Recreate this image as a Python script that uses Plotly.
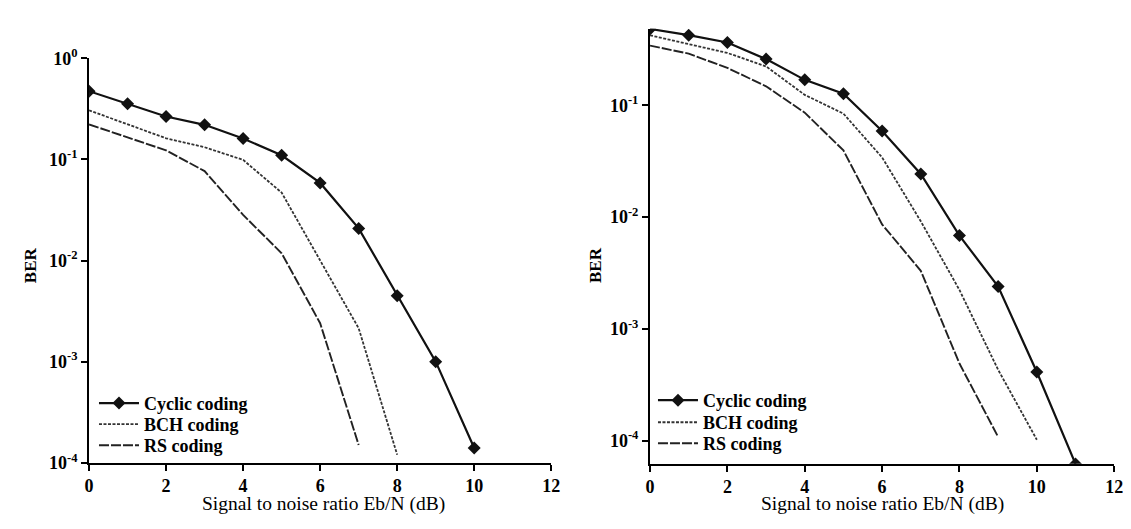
import plotly.graph_objects as go

# ---- data ----
snr_left_cyclic = [0, 1, 2, 3, 4, 5, 6, 7, 8, 9, 10]
ber_left_cyclic = [0.473, 0.356, 0.266, 0.220, 0.161, 0.110, 0.0586, 0.0208, 0.00449, 0.00100, 0.000140]
snr_left_bch = [0, 1, 2, 3, 4, 5, 6, 7, 8]
ber_left_bch = [0.306, 0.222, 0.162, 0.132, 0.099, 0.047, 0.0102, 0.00214, 0.000120]
snr_left_rs = [0, 1, 2, 3, 4, 5, 6, 7]
ber_left_rs = [0.222, 0.166, 0.123, 0.0767, 0.0283, 0.0118, 0.0024, 0.000150]

snr_right_cyclic = [0, 1, 2, 3, 4, 5, 6, 7, 8, 9, 10, 11]
ber_right_cyclic = [0.482, 0.424, 0.365, 0.259, 0.169, 0.127, 0.0590, 0.0243, 0.00684, 0.00239, 0.000412, 0.000062]
snr_right_bch = [0, 1, 2, 3, 4, 5, 6, 7, 8, 9, 10]
ber_right_bch = [0.423, 0.353, 0.294, 0.223, 0.124, 0.0843, 0.0342, 0.00918, 0.00223, 0.000431, 0.000102]
snr_right_rs = [0, 1, 2, 3, 4, 5, 6, 7, 8, 9]
ber_right_rs = [0.342, 0.290, 0.216, 0.148, 0.0860, 0.0395, 0.0086, 0.00331, 0.00049, 0.000108]

series_names = ["Cyclic coding", "BCH coding", "RS coding"]
x_ticks = [0, 2, 4, 6, 8, 10, 12]
y_tickvals = [1, 0.1, 0.01, 0.001, 0.0001]
y_tickexp = ["0", "-1", "-2", "-3", "-4"]
x_title = "Signal to noise ratio Eb/N (dB)"
y_title = "BER"

FONT = "Liberation Serif"
W, H = 1131, 529


def px_x(p):
    return p / W


def px_y(p):
    return 1 - p / H


styles = [
    dict(mode="lines+markers", line=dict(color="#111111", width=2.2),
         marker=dict(symbol="diamond", size=10, color="#111111")),
    dict(mode="lines", line=dict(color="#333333", width=1.8, dash="3px,1.5px")),
    dict(mode="lines", line=dict(color="#222222", width=1.9, dash="10px,2px")),
]

panels = [
    dict(xa="x", ya="y", data=[(snr_left_cyclic, ber_left_cyclic), (snr_left_bch, ber_left_bch),
                               (snr_left_rs, ber_left_rs)],
         leg_x=82, leg_y=[400, 422, 444]),
    dict(xa="x2", ya="y2", data=[(snr_right_cyclic, ber_right_cyclic), (snr_right_bch, ber_right_bch),
                                 (snr_right_rs, ber_right_rs)],
         leg_x=648, leg_y=[397, 420, 442]),
]

fig = go.Figure()
legend_layout = {}
k = 1
for p in panels:
    for i, (xs, ys) in enumerate(p["data"]):
        k += 1
        lname = f"legend{k}"
        fig.add_trace(go.Scatter(x=xs, y=ys, name=series_names[i], xaxis=p["xa"], yaxis=p["ya"],
                                 legend=lname, showlegend=True, **styles[i]))
        legend_layout[lname] = dict(x=px_x(p["leg_x"]), y=px_y(p["leg_y"][i]), xanchor="left",
                                    yanchor="middle", bgcolor="rgba(0,0,0,0)",
                                    font=dict(family=FONT, size=18, color="black", weight="bold"),
                                    itemwidth=40)

axis_common = dict(showline=True, linecolor="black", linewidth=2, ticks="outside",
                   ticklen=6, tickwidth=2, tickcolor="black", showgrid=False,
                   zeroline=False, mirror=False,
                   tickfont=dict(family=FONT, size=18, color="black"))

x_ticktext = [f"<b>{v}</b>" for v in x_ticks]
y_ticktext = [f"<b>10<sup>{e}</sup></b>" for e in y_tickexp]

fig.update_layout(
    width=W, height=H,
    margin=dict(l=0, r=0, t=0, b=0),
    paper_bgcolor="white", plot_bgcolor="white",
    showlegend=True,
    font=dict(family=FONT, color="black"),
    xaxis=dict(domain=[px_x(77), px_x(545)], range=[0, 12], tickvals=x_ticks, ticktext=x_ticktext,
               anchor="y", **axis_common),
    yaxis=dict(domain=[px_y(462), px_y(40)], type="log", range=[-4, 0],
               tickvals=y_tickvals, ticktext=y_ticktext, anchor="x", **axis_common),
    xaxis2=dict(domain=[px_x(645), px_x(1115)], range=[0, 12], tickvals=x_ticks, ticktext=x_ticktext,
                anchor="y2", **axis_common),
    yaxis2=dict(domain=[px_y(463), px_y(9)], type="log", range=[-4.206, -0.314],
                tickvals=y_tickvals[1:], ticktext=y_ticktext[1:], anchor="x2", **axis_common),
    annotations=[
        dict(text=x_title, x=px_x(314), y=px_y(505), xref="paper", yref="paper",
             xanchor="center", yanchor="middle",
             showarrow=False, font=dict(family=FONT, size=19.5, color="black")),
        dict(text=x_title, x=px_x(880), y=px_y(505), xref="paper", yref="paper",
             xanchor="center", yanchor="middle",
             showarrow=False, font=dict(family=FONT, size=19.5, color="black")),
        dict(text="<b>" + y_title + "</b>", x=px_x(18), y=px_y(256), xref="paper", yref="paper",
             xanchor="center", yanchor="middle",
             showarrow=False, textangle=-90, font=dict(family=FONT, size=17, color="black")),
        dict(text="<b>" + y_title + "</b>", x=px_x(590), y=px_y(256), xref="paper", yref="paper",
             xanchor="center", yanchor="middle",
             showarrow=False, textangle=-90, font=dict(family=FONT, size=17, color="black")),
    ],
    **legend_layout,
)

fig.write_html("out.html")
